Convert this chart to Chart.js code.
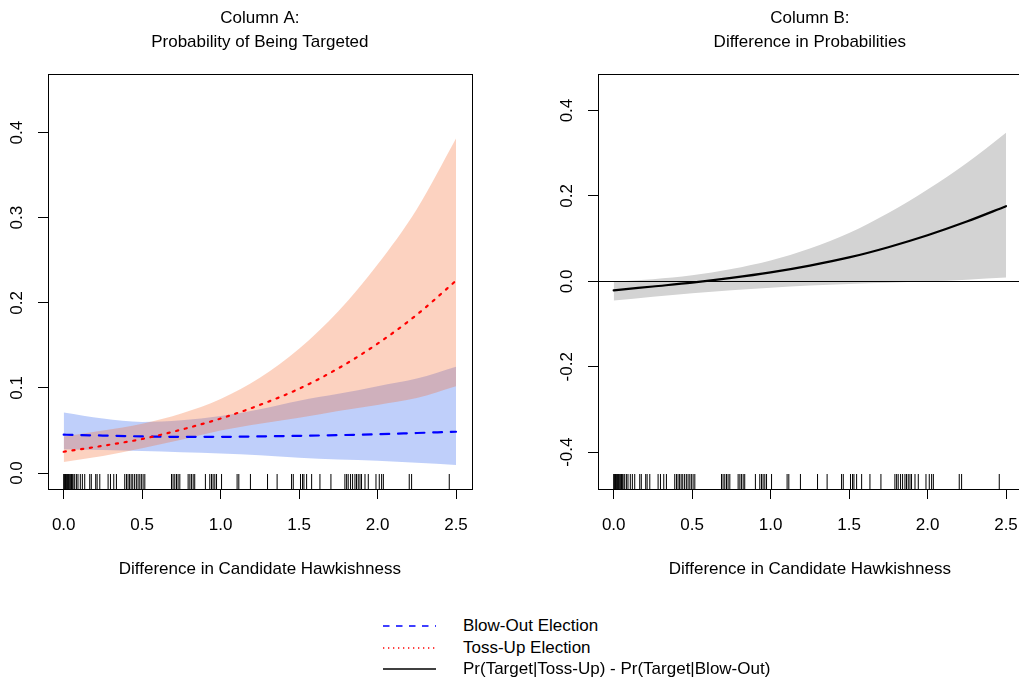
<!DOCTYPE html>
<html>
<head>
<meta charset="utf-8">
<script src="https://cdn.jsdelivr.net/npm/chart.js@4.4.1/dist/chart.umd.min.js"></script>
<style>
  html, body { margin: 0; padding: 0; background: #fff; width: 1019px; height: 680px; overflow: hidden; }
  canvas { position: absolute; top: 0; }
  #chartA { left: 0; }
  #chartB { left: 510px; }
  #legend { position: absolute; left: 382px; top: 615px; font: 17px "Liberation Sans", Arial, Helvetica, sans-serif; color: #000; }
  .row { position: relative; height: 21.5px; white-space: nowrap; }
  .row canvas { position: absolute; left: 0; top: 0; }
  .row span { position: absolute; left: 81px; top: 0; line-height: 22px; }
</style>
</head>
<body>
<canvas id="chartA" width="510" height="600"></canvas>
<canvas id="chartB" width="540" height="600"></canvas>
<div id="legend"></div>
<script>
// Difference in candidate hawkishness (evaluation grid)
const hawkGrid = [0, 0.25, 0.5, 0.75, 1.0, 1.25, 1.5, 1.75, 2.0, 2.25, 2.5];

// Column A: predicted probability of being targeted
const blowOutMean  = [0.045, 0.044, 0.043, 0.0425, 0.0425, 0.043, 0.0437, 0.0445, 0.0455, 0.047, 0.0485];
const blowOutUpper = [0.071, 0.064, 0.060, 0.062, 0.067, 0.075, 0.085, 0.093, 0.102, 0.111, 0.125];
const blowOutLower = [0.028, 0.027, 0.026, 0.0245, 0.023, 0.021, 0.018, 0.016, 0.0145, 0.012, 0.0094];
const tossUpMean   = [0.025, 0.032, 0.040, 0.051, 0.064, 0.080, 0.099, 0.123, 0.152, 0.186, 0.226];
const tossUpUpper  = [0.043, 0.050, 0.058, 0.070, 0.087, 0.112, 0.146, 0.190, 0.245, 0.310, 0.393];
const tossUpLower  = [0.013, 0.020, 0.029, 0.039, 0.050, 0.058, 0.065, 0.073, 0.080, 0.088, 0.102];

// Column B: Pr(Target|Toss-Up) - Pr(Target|Blow-Out)
const diffMean  = [-0.021, -0.012, -0.003, 0.008, 0.021, 0.037, 0.056, 0.080, 0.108, 0.140, 0.176];
const diffUpper = [-0.001, 0.005, 0.014, 0.029, 0.049, 0.077, 0.113, 0.160, 0.215, 0.277, 0.348];
const diffLower = [-0.045, -0.036, -0.028, -0.021, -0.015, -0.010, -0.006, -0.003, 0.000, 0.004, 0.009];

// Observed hawkishness differences (rug)
const observedHawk = [
  0, 0.004, 0.008, 0.012, 0.016, 0.02, 0.025, 0.03, 0.035, 0.04, 0.045, 0.05, 0.055, 0.06, 0.07,
  0.081, 0.091, 0.106, 0.119, 0.134, 0.166, 0.176, 0.204, 0.213, 0.23, 0.283, 0.298, 0.319, 0.336,
  0.389, 0.40, 0.41, 0.42, 0.43, 0.44, 0.452, 0.463, 0.474, 0.485, 0.495, 0.506, 0.517,
  0.687, 0.697, 0.708, 0.719, 0.729, 0.74, 0.793, 0.804, 0.814, 0.825, 0.835,
  0.903, 0.931, 0.942, 0.952, 0.963, 0.974, 1.006, 1.105, 1.116, 1.19, 1.299, 1.36,
  1.452, 1.463, 1.509, 1.522, 1.531, 1.548, 1.58, 1.633, 1.703,
  1.792, 1.803, 1.813, 1.828, 1.841, 1.856, 1.866, 1.877, 1.888, 1.898, 1.92, 1.941,
  1.99, 2.011, 2.026, 2.037, 2.202, 2.217, 2.457
];

// Axis ticks
const xTicks  = [0, 0.5, 1.0, 1.5, 2.0, 2.5];
const yTicksA = [0, 0.1, 0.2, 0.3, 0.4];
const yTicksB = [-0.4, -0.2, 0, 0.2, 0.4];

const titleA = ['Column A:', 'Probability of Being Targeted'];
const titleB = ['Column B:', 'Difference in Probabilities'];
const xTitle = 'Difference in Candidate Hawkishness';
const legendLabels = ['Blow-Out Election', 'Toss-Up Election', 'Pr(Target|Toss-Up) - Pr(Target|Blow-Out)'];

const FONT = '"Liberation Sans", Arial, Helvetica, sans-serif';

const pts = ys => hawkGrid.map((x, i) => ({ x, y: ys[i] }));

const curve = (data, color, width, dash) => ({
  data: pts(data), borderColor: color, borderWidth: width, borderDash: dash,
  borderCapStyle: 'round', pointRadius: 0, fill: false,
  cubicInterpolationMode: 'monotone'
});
const bandEdge = (data, fillColor) => ({
  data: pts(data), borderColor: 'rgba(0,0,0,0)', borderWidth: 1, pointRadius: 0,
  backgroundColor: fillColor || 'rgba(0,0,0,0)', fill: fillColor ? '+1' : false,
  cubicInterpolationMode: 'monotone'
});

// Box, rug, reference line and text around each panel
const panelDecor = {
  id: 'panelDecor',
  afterDatasetsDraw(chart, args, opts) {
    const { ctx, chartArea: a, scales } = chart;
    ctx.save();
    ctx.strokeStyle = '#000';
    ctx.lineWidth = 1;
    ctx.beginPath();
    for (const v of opts.rug) {
      const px = scales.x.getPixelForValue(v);
      ctx.moveTo(px, a.bottom);
      ctx.lineTo(px, a.bottom - 15);
    }
    ctx.stroke();
    if (opts.zeroLine) {
      const py = Math.round(scales.y.getPixelForValue(0)) + 0.5;
      ctx.beginPath();
      ctx.moveTo(a.left, py);
      ctx.lineTo(a.right, py);
      ctx.stroke();
    }
    ctx.strokeRect(Math.round(a.left) + 0.5, Math.round(a.top) + 0.5,
                   Math.round(a.right - a.left), Math.round(a.bottom - a.top));
    ctx.fillStyle = '#000';
    ctx.font = '17px ' + FONT;
    ctx.textAlign = 'center';
    ctx.textBaseline = 'middle';
    const cx = (a.left + a.right) / 2;
    opts.title.forEach((t, i) => ctx.fillText(t, cx, 18.5 + i * 24));
    ctx.fillText(xTitle, cx, 569.5);
    ctx.restore();
  }
};

function axes(yMin, yMax, yTicks, yPad) {
  const grid = { drawOnChartArea: false, drawTicks: true, tickLength: 10, color: '#000', lineWidth: 1 };
  const font = { family: FONT, size: 17 };
  return {
    x: {
      type: 'linear', min: -0.1, max: 2.6,
      afterBuildTicks: s => { s.ticks = xTicks.map(v => ({ value: v })); },
      afterFit: s => { s.height = 111; },
      grid, border: { display: false },
      ticks: { font, color: '#000', padding: 16, maxRotation: 0, callback: v => v.toFixed(1) }
    },
    y: {
      type: 'linear', min: yMin, max: yMax,
      afterBuildTicks: s => { s.ticks = yTicks.map(v => ({ value: v })); },
      afterFit: s => { s.width = 48; },
      grid, border: { display: false },
      ticks: { font, color: '#000', padding: yPad, minRotation: 90, maxRotation: 90,
               crossAlign: 'center', callback: v => v.toFixed(1) }
    }
  };
}

const common = {
  responsive: false, animation: false, events: [],
  plugins: { legend: { display: false }, tooltip: { enabled: false } }
};

new Chart(document.getElementById('chartA'), {
  type: 'line',
  data: {
    datasets: [
      curve(tossUpMean, '#ff0000', 2.2, [2.2, 6.6]),
      curve(blowOutMean, '#0000ff', 2.2, [8.8, 8.8]),
      bandEdge(tossUpUpper, 'rgba(245,105,48,0.3)'),
      bandEdge(tossUpLower),
      bandEdge(blowOutUpper, 'rgba(72,118,241,0.35)'),
      bandEdge(blowOutLower)
    ]
  },
  options: Object.assign({}, common, {
    layout: { padding: { left: 0, top: 74, right: 38.3, bottom: 0 } },
    scales: axes(-0.0188, 0.4689, yTicksA, 8.7),
    plugins: Object.assign({}, common.plugins, {
      panelDecor: { rug: observedHawk, zeroLine: false, title: titleA }
    })
  }),
  plugins: [panelDecor]
});

new Chart(document.getElementById('chartB'), {
  type: 'line',
  data: {
    datasets: [
      curve(diffMean, '#000000', 2.2, []),
      bandEdge(diffUpper, '#d3d3d3'),
      bandEdge(diffLower)
    ]
  },
  options: Object.assign({}, common, {
    layout: { padding: { left: 40, top: 74, right: 28.3, bottom: 0 } },
    scales: axes(-0.4863, 0.4856, yTicksB, 5.9),
    plugins: Object.assign({}, common.plugins, {
      panelDecor: { rug: observedHawk, zeroLine: true, title: titleB }
    })
  }),
  plugins: [panelDecor]
});

// Shared legend below both panels
const legendStyles = [
  { color: '#0000ff', width: 1.3, dash: [6.5, 6.5] },
  { color: '#ff0000', width: 1.3, dash: [1.3, 3.7] },
  { color: '#000000', width: 1.3, dash: [] }
];
const legendBox = document.getElementById('legend');
legendLabels.forEach((label, i) => {
  const row = document.createElement('div');
  row.className = 'row';
  const c = document.createElement('canvas');
  c.width = 56; c.height = 22;
  const g = c.getContext('2d');
  const st = legendStyles[i];
  g.strokeStyle = st.color;
  g.lineWidth = st.width;
  g.setLineDash(st.dash);
  g.beginPath();
  g.moveTo(1, 11);
  g.lineTo(54, 11);
  g.stroke();
  const s = document.createElement('span');
  s.textContent = label;
  row.appendChild(c);
  row.appendChild(s);
  legendBox.appendChild(row);
});
</script>
</body>
</html>
